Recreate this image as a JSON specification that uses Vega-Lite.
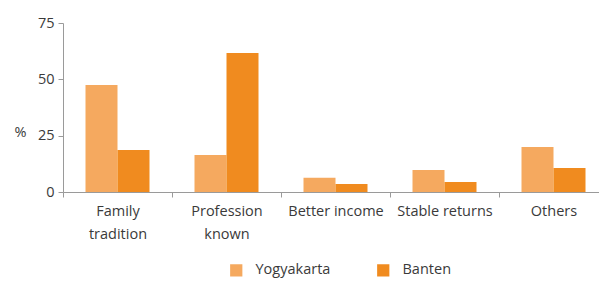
{
  "$schema": "https://vega.github.io/schema/vega-lite/v6.json",
  "width": 545,
  "height": 169,
  "autosize": "none",
  "padding": {"left": 63, "top": 23, "right": 0, "bottom": 93},
  "background": "white",
  "config": {
    "view": {"stroke": null},
    "font": "Open Sans",
    "axis": {"labelFont": "Open Sans", "titleFont": "Open Sans", "labelColor": "#3a3a3a", "titleColor": "#3a3a3a", "domainColor": "#9a9a9a", "tickColor": "#9a9a9a", "labelFontSize": 14.5, "titleFontSize": 14.5, "titleFontWeight": "normal", "grid": false},
    "legend": {"labelFont": "Open Sans", "labelFontSize": 14.5, "labelColor": "#3a3a3a"}
  },
  "data": {
    "values": [
      {"reason": "Family tradition", "region": "Yogyakarta", "value": 47.5},
      {"reason": "Family tradition", "region": "Banten", "value": 18.6},
      {"reason": "Profession known", "region": "Yogyakarta", "value": 16.4},
      {"reason": "Profession known", "region": "Banten", "value": 61.7},
      {"reason": "Better income", "region": "Yogyakarta", "value": 6.3},
      {"reason": "Better income", "region": "Banten", "value": 3.5},
      {"reason": "Stable returns", "region": "Yogyakarta", "value": 9.8},
      {"reason": "Stable returns", "region": "Banten", "value": 4.4},
      {"reason": "Others", "region": "Yogyakarta", "value": 20},
      {"reason": "Others", "region": "Banten", "value": 10.7}
    ]
  },
  "mark": {"type": "bar"},
  "encoding": {
    "x": {
      "field": "reason", "type": "nominal",
      "sort": ["Family tradition", "Profession known", "Better income", "Stable returns", "Others"],
      "scale": {"paddingInner": 0, "paddingOuter": 0},
      "axis": {
        "title": null, "labelAngle": 0, "tickBand": "extent", "tickSize": 5, "labelPadding": 7, "labelLineHeight": 23,
        "labelExpr": "datum.label == 'Family tradition' ? ['Family', 'tradition'] : datum.label == 'Profession known' ? ['Profession', 'known'] : datum.label"
      }
    },
    "xOffset": {
      "field": "region", "type": "nominal",
      "sort": ["Yogyakarta", "Banten"],
      "scale": {"paddingInner": 0, "paddingOuter": 0.703}
    },
    "y": {
      "field": "value", "type": "quantitative",
      "scale": {"domain": [0, 75], "nice": false},
      "axis": {"values": [0, 25, 50, 75], "title": "%", "titleAngle": 0, "titleX": -43, "titleY": 116, "titleAlign": "center", "tickSize": 5, "labelPadding": 4}
    },
    "color": {
      "field": "region", "type": "nominal",
      "sort": ["Yogyakarta", "Banten"],
      "scale": {"domain": ["Yogyakarta", "Banten"], "range": ["#F5A95F", "#F08B1F"]},
      "legend": {"title": null, "orient": "none", "legendX": 166, "legendY": 240, "direction": "horizontal", "symbolType": "square", "symbolSize": 150, "symbolStrokeWidth": 0, "symbolOpacity": 1, "labelOffset": 12, "columnPadding": 45}
    }
  }
}
